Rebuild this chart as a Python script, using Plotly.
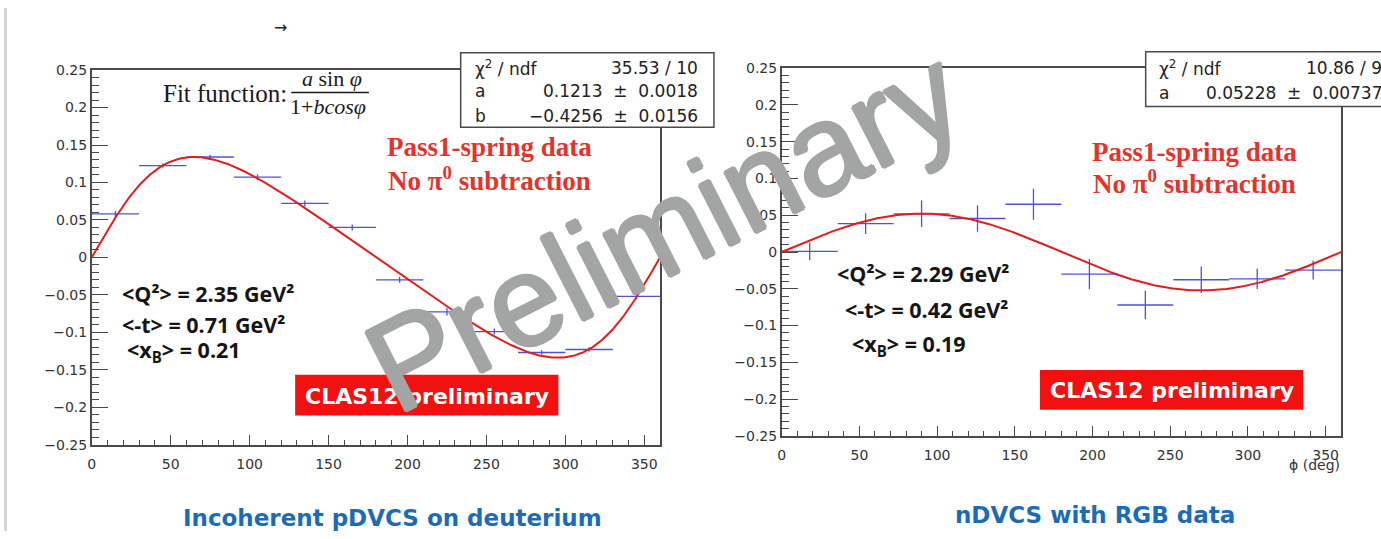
import numpy as np
import plotly.graph_objects as go

W, H = 1381, 539

# ---------------- data ----------------
left_phi = [15, 45, 75, 105, 135, 165, 195, 225, 255, 285, 315, 345]
left_halfwidth = [15] * 12
left_asym = [0.058, 0.1225, 0.134, 0.107, 0.072, 0.040, -0.030, -0.0727, -0.099, -0.127, -0.123, -0.052]
left_err = [0.004, 0.003, 0.003, 0.004, 0.004, 0.004, 0.004, 0.005, 0.004, 0.003, 0.003, 0.004]
left_fit_a = 0.1213
left_fit_b = -0.4256

right_phi = [18, 54, 90, 126, 162, 198, 234, 270, 306, 342]
right_halfwidth = [18] * 10
right_asym = [0.001, 0.0386, 0.052, 0.0456, 0.065, -0.030, -0.072, -0.0377, -0.0364, -0.0245]
right_err = [0.012, 0.014, 0.018, 0.018, 0.021, 0.0205, 0.0194, 0.018, 0.0137, 0.013]
right_fit_a = 0.05228

y_ticks = [-0.25, -0.2, -0.15, -0.1, -0.05, 0, 0.05, 0.1, 0.15, 0.2, 0.25]
y_labels = ["\u22120.25", "\u22120.2", "\u22120.15", "\u22120.1", "\u22120.05", "0",
            "0.05", "0.1", "0.15", "0.2", "0.25"]
x_ticks = [0, 50, 100, 150, 200, 250, 300, 350]
x_labels = ["0", "50", "100", "150", "200", "250", "300", "350"]

left_stats = [("\u03c7<sup>2</sup> / ndf", "35.53 / 10"),
              ("a", "0.1213\u00a0\u00a0\u00b1\u00a0\u00a00.0018"),
              ("b", "\u22120.4256\u00a0\u00a0\u00b1\u00a0\u00a00.0156")]
right_stats = [("\u03c7<sup>2</sup> / ndf", "10.86 / 9"),
               ("a", "0.05228\u00a0\u00a0\u00b1\u00a0\u00a00.00737")]

left_kin = ["&lt;Q\u00b2&gt; = 2.35 GeV\u00b2", "&lt;-t&gt; = 0.71 GeV\u00b2", "&lt;x<sub>B</sub>&gt; = 0.21"]
right_kin = ["&lt;Q\u00b2&gt; = 2.29 GeV\u00b2", "&lt;-t&gt; = 0.42 GeV\u00b2", "&lt;x<sub>B</sub>&gt; = 0.19"]

# ---------------- helpers ----------------
def px(x):
    return x / W

def py(y):
    return 1 - y / H

BLUE = "#5050d8"
RED_LINE = "#e41c1c"
RED_TEXT = "#e3342b"
BOX_RED = "#f21010"
AX = "#4a4a4a"

phi_fine = np.linspace(0, 360, 721)
rad = np.deg2rad(phi_fine)
left_fit = left_fit_a * np.sin(rad) / (1 + left_fit_b * np.cos(rad))
right_fit = right_fit_a * np.sin(rad)

fig = go.Figure()

INVIS = dict(size=1, color="rgba(0,0,0,0)")
fig.add_trace(go.Scatter(
    x=left_phi, y=left_asym, mode="markers", marker=INVIS,
    error_x=dict(type="data", array=left_halfwidth, color=BLUE, thickness=1.3, width=0),
    error_y=dict(type="data", array=left_err, color=BLUE, thickness=1.3, width=0),
    xaxis="x", yaxis="y", hoverinfo="skip"))
fig.add_trace(go.Scatter(x=phi_fine, y=left_fit, mode="lines",
                         line=dict(color=RED_LINE, width=2), xaxis="x", yaxis="y"))

fig.add_trace(go.Scatter(
    x=right_phi, y=right_asym, mode="markers", marker=INVIS,
    error_x=dict(type="data", array=right_halfwidth, color=BLUE, thickness=1.3, width=0),
    error_y=dict(type="data", array=right_err, color=BLUE, thickness=1.3, width=0),
    xaxis="x2", yaxis="y2", hoverinfo="skip"))
fig.add_trace(go.Scatter(x=phi_fine, y=right_fit, mode="lines",
                         line=dict(color=RED_LINE, width=2), xaxis="x2", yaxis="y2"))

tickfont = dict(family="DejaVu Sans", size=14, color="#333333")

def xcfg(domain, anchor):
    return dict(domain=domain, anchor=anchor, range=[0, 360], tickmode="array",
                tickvals=x_ticks, ticktext=x_labels, ticks="inside", ticklen=10,
                tickwidth=1.3, tickcolor=AX, ticklabelstandoff=6,
                minor=dict(tick0=0, dtick=10, ticks="inside",
                           ticklen=5, tickwidth=1.1, tickcolor=AX),
                showline=True, linecolor=AX, linewidth=1.5, mirror=True,
                showgrid=False, zeroline=False, tickfont=tickfont)

def ycfg(domain, anchor):
    return dict(domain=domain, anchor=anchor, range=[-0.25, 0.25], tickmode="array",
                tickvals=y_ticks, ticktext=y_labels, ticks="inside", ticklen=17,
                tickwidth=1.3, tickcolor=AX,
                minor=dict(tick0=0, dtick=0.01, ticks="inside",
                           ticklen=8, tickwidth=1.1, tickcolor=AX),
                showline=True, linecolor=AX, linewidth=1.5, mirror=True,
                showgrid=False, zeroline=False, tickfont=tickfont)

fig.update_layout(
    width=W, height=H, margin=dict(l=0, r=0, t=0, b=0),
    paper_bgcolor="white", plot_bgcolor="white", showlegend=False,
    xaxis=xcfg([px(88), px(658)], "y"),
    yaxis=ycfg([py(450), py(64)], "x"),
    xaxis2=xcfg([px(780), px(1341)], "y2"),
    yaxis2=ycfg([py(441), py(62)], "x2"),
)

shapes = []
annotations = []

def ann(text, x, y, size, family="DejaVu Sans", color="#111111", xanchor="center",
        yanchor="middle", angle=0, shadow=None):
    f = dict(family=family, size=size, color=color)
    if shadow:
        f["shadow"] = shadow
    annotations.append(dict(text=text, x=px(x), y=py(y), xref="paper", yref="paper",
                            showarrow=False, xanchor=xanchor, yanchor=yanchor,
                            textangle=angle, font=f))

# left-edge slide border
shapes.append(dict(type="rect", xref="paper", yref="paper", x0=0, x1=px(3), y0=0, y1=1,
                   line=dict(width=0), fillcolor="#d6d6d6", layer="above"))

# stat boxes
shapes.append(dict(type="rect", xref="paper", yref="paper", x0=px(458), x1=px(712),
                   y0=py(123), y1=py(46), line=dict(color=AX, width=1.5),
                   fillcolor="white", layer="above"))
shapes.append(dict(type="rect", xref="paper", yref="paper", x0=px(1145), x1=px(1400),
                   y0=py(101.5), y1=py(45), line=dict(color=AX, width=1.5),
                   fillcolor="white", layer="above"))
for i, (lab, val) in enumerate(left_stats):
    yy = [62, 86, 111][i]
    ann(lab, 470, yy, 17, color="#222222", xanchor="left")
    ann(val, 698, yy, 17, color="#222222", xanchor="right")
for i, (lab, val) in enumerate(right_stats):
    yy = [62, 88][i]
    ann(lab, 1156, yy, 17, color="#222222", xanchor="left")
    ann(val, 1384, yy, 17, color="#222222", xanchor="right")

# CLAS12 preliminary boxes
shapes.append(dict(type="rect", xref="paper", yref="paper", x0=px(292), x1=px(556),
                   y0=py(420), y1=py(378), line=dict(width=0), fillcolor=BOX_RED, layer="above"))
shapes.append(dict(type="rect", xref="paper", yref="paper", x0=px(1039), x1=px(1303),
                   y0=py(414), y1=py(373), line=dict(width=0), fillcolor=BOX_RED, layer="above"))
ann("<b>CLAS12 preliminary</b>", 424, 400, 22, color="white")
ann("<b>CLAS12 preliminary</b>", 1171, 394, 22, color="white")

# fit function text
ann("Fit function:", 286, 88, 25, family="Liberation Serif", color="#1a1a1a", xanchor="right")
ann("<i>a</i>\u00a0sin\u00a0<i>\u03c6</i>", 329, 73, 22, family="Liberation Serif", color="#1a1a1a")
ann("1+<i>bcos\u03c6</i>", 325, 101, 22, family="Liberation Serif", color="#1a1a1a")
shapes.append(dict(type="line", xref="paper", yref="paper", x0=px(288), x1=px(366),
                   y0=py(87), y1=py(87), line=dict(color="#1a1a1a", width=1.5), layer="above"))

# red data notes
ann("<b>Pass1-spring data</b>", 487, 143, 27, family="Liberation Serif", color=RED_TEXT)
ann("<b>No \u03c0<sup>0</sup> subtraction</b>", 487, 176, 27, family="Liberation Serif", color=RED_TEXT)
ann("<b>Pass1-spring data</b>", 1194, 148, 27, family="Liberation Serif", color=RED_TEXT)
ann("<b>No \u03c0<sup>0</sup> subtraction</b>", 1194, 179, 27, family="Liberation Serif", color=RED_TEXT)

# kinematics
for txt, xx, yy in zip(left_kin, [116, 116, 121], [294, 326, 354]):
    ann("<b>" + txt + "</b>", xx, yy, 21.5, family="Open Sans", color="#151515", xanchor="left")
for txt, xx, yy in zip(right_kin, [922, 925, 908], [274, 311, 347]):
    ann("<b>" + txt + "</b>", xx, yy, 21.5, family="Open Sans", color="#151515")

# axis title right
ann("\u03d5 (deg)", 1342, 471, 14, color="#333333", xanchor="right")

# titles
ann("<b>Incoherent pDVCS on deuterium</b>", 390, 526, 23, color="#1c6bb4")
ann("<b>nDVCS with RGB data</b>", 1094, 522, 23, color="#1c6bb4")

# arrow
ann("\u2192", 277, 20, 16, color="#222222")

# watermark
GREY = "#a2a5a4"
ann("Preliminary", 662, 228, 129, family="Liberation Sans", color=GREY, angle=-27,
    shadow="1.5px 0 0 %s, -1.5px 0 0 %s, 0 1.5px 0 %s, 0 -1.5px 0 %s" % (GREY, GREY, GREY, GREY))

fig.update_layout(shapes=shapes, annotations=annotations)
fig.write_html("out.html")
